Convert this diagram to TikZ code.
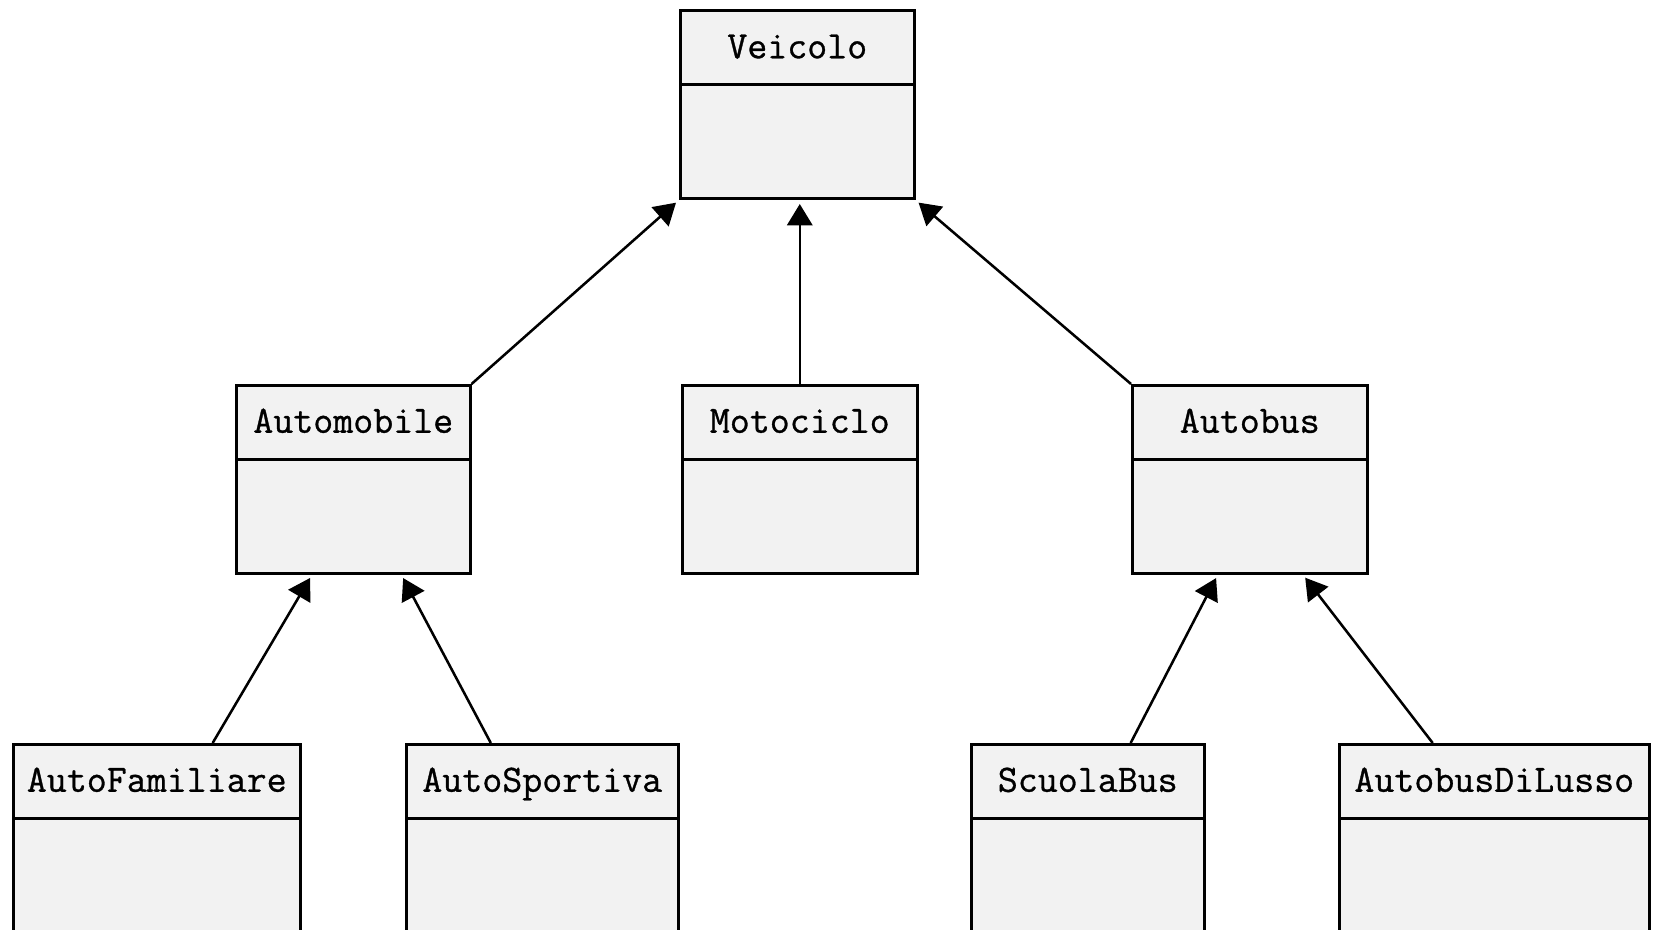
\documentclass[tikz,border=0pt]{standalone}
\usepackage{fontspec}
\setmonofont{Latin Modern Mono}[FakeBold=0.8]
\usetikzlibrary{arrows.meta,calc}
\definecolor{boxgray}{HTML}{F2F2F2}
% One UML class: name, left x, top y, width (all in px), title
\newcommand\umlclass[5]{%
  \node[classbox, minimum width=#4*0.75pt] (#1) at (#2,#3) {};
  \node[classhead, minimum width=#4*0.75pt] (#1-h) at (#1.north) {#5};
}
\begin{document}
\begin{tikzpicture}[x=0.75pt,y=-0.75pt,
  classbox/.style={draw=black, fill=boxgray, line width=1.9pt, inner sep=0pt,
    minimum height=188*0.75pt, anchor=north west},
  classhead/.style={draw=black, fill=boxgray, line width=1.9pt, inner sep=0pt,
    minimum height=74*0.75pt, anchor=north, text height=21pt, text depth=5.2pt,
    font=\ttfamily\fontsize{29.1}{32}\selectfont},
  inherit/.style={line width=1.9pt, draw=black,
    -{Triangle[length=16pt,width=19pt]}, shorten >=3pt}]
\useasboundingbox (0,0) rectangle (1653,930);
\clip (0,0) rectangle (1653,930);

% root
\umlclass{veicolo}{679}{9.5}{234}{Veicolo}
% second level
\umlclass{automobile}{235}{384}{234}{Automobile}
\umlclass{motociclo}{681}{384}{235}{Motociclo}
\umlclass{autobus}{1131}{384}{235}{Autobus}
% third level
\umlclass{autofamiliare}{12}{743}{287}{AutoFamiliare}
\umlclass{autosportiva}{405}{743}{272}{AutoSportiva}
\umlclass{scuolabus}{970}{743}{233}{ScuolaBus}
\umlclass{autobusdilusso}{1338}{743}{310}{AutobusDiLusso}

% generalisation edges
\draw[inherit] (automobile.north east) -- (veicolo.south west);
\draw[inherit] (motociclo.north) -- (motociclo.north |- veicolo.south);
\draw[inherit] (autobus.north west) -- (veicolo.south east);

\draw[inherit] ($(autofamiliare.north west)!0.693!(autofamiliare.north east)$)
  -- ($(automobile.south west)!0.326!(automobile.south east)$);
\draw[inherit] ($(autosportiva.north west)!0.3125!(autosportiva.north east)$)
  -- ($(automobile.south west)!0.703!(automobile.south east)$);
\draw[inherit] ($(scuolabus.north west)!0.682!(scuolabus.north east)$)
  -- ($(autobus.south west)!0.366!(autobus.south east)$);
\draw[inherit] ($(autobusdilusso.north west)!0.303!(autobusdilusso.north east)$)
  -- ($(autobus.south west)!0.723!(autobus.south east)$);
\end{tikzpicture}
\end{document}
